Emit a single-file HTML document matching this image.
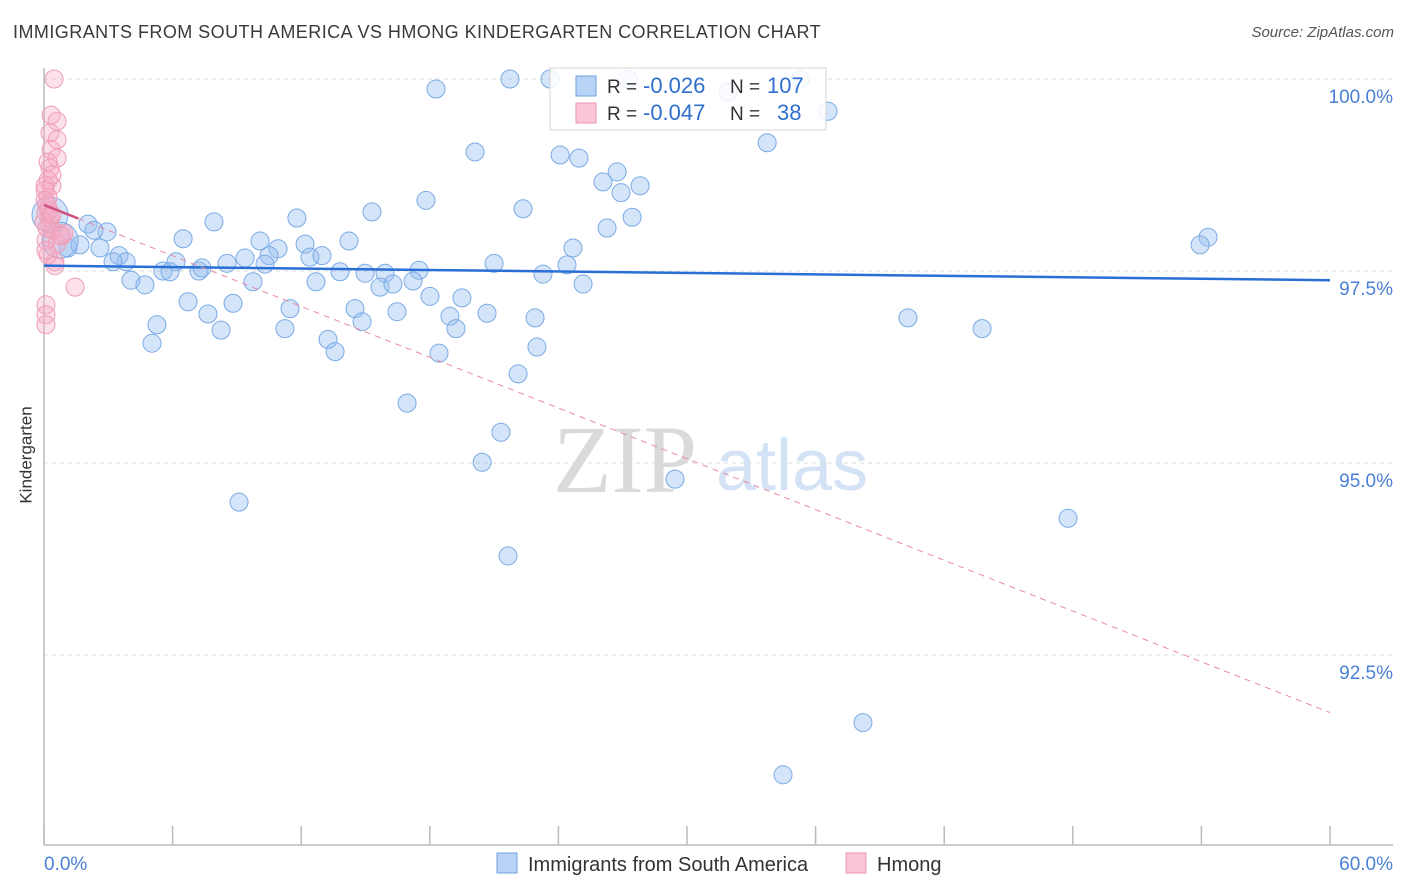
<!DOCTYPE html>
<html><head><meta charset="utf-8">
<style>
body{margin:0;background:#fff;font-family:"Liberation Sans",sans-serif;}
#wrap{position:relative;width:1406px;height:892px;overflow:hidden;}
.t{position:absolute;white-space:nowrap;}
</style></head>
<body><div id="wrap">
<div class="t" style="left:13px;top:22px;font-size:18px;letter-spacing:0.45px;color:#3a3a3a;">IMMIGRANTS FROM SOUTH AMERICA VS HMONG KINDERGARTEN CORRELATION CHART</div>
<div class="t" style="right:12px;top:24px;font-size:15px;color:#555;font-style:italic;">Source: ZipAtlas.com</div>
<div class="t" style="left:-22px;top:445px;font-size:17px;color:#333;transform:rotate(-90deg);">Kindergarten</div>
<svg id="plot" width="1406" height="892" style="position:absolute;left:0;top:0"></svg>
</div>
<script>
const blueX=[21.74,23.61,27.25,18.29,36.58,31.92,35.28,33.74,20.11,24.08,24.96,26.74,26.08,26.92,27.81,17.82,22.35,15.30,11.80,7.93,27.44,26.27,54.31,53.94,6.49,10.08,12.18,14.23,10.92,24.68,2.94,2.05,2.33,1.12,1.68,2.61,3.50,3.83,3.22,9.38,8.54,10.50,10.31,12.41,12.97,6.16,5.55,5.88,7.23,7.37,21.00,24.40,17.50,15.91,13.81,14.98,4.06,4.71,9.75,12.69,15.68,16.28,23.28,17.22,25.15,6.72,8.82,11.48,18.01,19.50,14.51,16.47,20.67,18.94,22.91,7.65,5.27,8.26,11.24,14.84,19.22,13.25,5.04,13.58,18.43,23.00,22.12,40.31,43.77,16.94,21.32,20.44,29.44,9.10,47.78,21.65,38.21,34.48,0.28,0.75];
const blueY=[100,100,100,99.87,99.58,99.83,100,99.17,99.05,99.01,98.97,98.79,98.66,98.52,98.61,98.42,98.31,98.27,98.19,98.14,98.20,98.06,97.94,97.84,97.92,97.89,97.85,97.89,97.79,97.80,98.01,98.11,98.03,97.80,97.84,97.80,97.70,97.62,97.62,97.67,97.60,97.70,97.59,97.68,97.70,97.62,97.50,97.49,97.50,97.54,97.60,97.58,97.51,97.47,97.49,97.47,97.38,97.32,97.36,97.36,97.29,97.33,97.46,97.37,97.33,97.10,97.08,97.01,97.17,97.15,97.01,96.97,96.95,96.91,96.89,96.94,96.80,96.73,96.75,96.84,96.75,96.61,96.56,96.45,96.43,96.51,96.16,96.89,96.75,95.78,95.40,95.01,94.79,94.49,94.28,93.79,91.62,90.94,98.23,97.90];
const pinkX=[0.47,0.33,0.61,0.28,0.61,0.33,0.61,0.28,0.19,0.37,0.19,0.14,0.09,0.28,0.28,0.42,0.09,0.61,0.51,0.19,1.45,0.09,0.09,0.09,0.84,0.93,0.19,0.37,0.05,0.05,0.23,0,0.14,0.37,0.09,0.51,0.75,0.05];
const pinkY=[100,99.53,99.45,99.30,99.21,99.08,98.97,98.84,98.68,98.61,98.46,98.36,98.26,98.19,98.10,98.03,97.90,97.86,97.62,97.71,97.29,97.06,96.93,96.80,97.96,97.99,98.92,98.75,98.61,98.55,98.29,98.14,98.06,98.23,97.77,97.57,97.96,98.42];
const blueTrend=[97.57,97.38];
const pinkTrend=[98.36,91.75];
const yTicks=[100,97.5,95,92.5];
const yTickLabels=["100.0%","97.5%","95.0%","92.5%"];
const xTicks=[0,6,12,18,24,30,36,42,48,54,60];

const NS="http://www.w3.org/2000/svg";
const svg=document.getElementById('plot');
const X0=44,X1=1330,XMAX=60;
const sx=v=>X0+v/XMAX*(X1-X0);
const sy=v=>79+(100-v)/2.5*192;
function mk(tag,a){const e=document.createElementNS(NS,tag);for(const k in a)e.setAttribute(k,a[k]);svg.appendChild(e);return e;}

yTicks.forEach((t,i)=>{
  const g=mk('line',{x1:44,x2:1393,y1:sy(t),y2:sy(t),stroke:'#dcdcdc','stroke-dasharray':'4,4','stroke-width':1});
  
  
  const tx=mk('text',{x:1393,y:sy(t)+24,'text-anchor':'end','font-size':19,fill:'#4a7fd4','font-family':'Liberation Sans,sans-serif'});
  tx.textContent=yTickLabels[i];
  
  
});
let ax=mk('line',{x1:44,x2:44,y1:68,y2:845,stroke:'#bbb','stroke-width':1.5});


ax=mk('line',{x1:44,x2:1393,y1:845,y2:845,stroke:'#bbb','stroke-width':1.5});


xTicks.forEach(t=>{
  const l=mk('line',{x1:sx(t),x2:sx(t),y1:826,y2:845,stroke:'#bbb','stroke-width':1.5});
  
  
});
let xl=mk('text',{x:44,y:870,'font-size':19,fill:'#4a7fd4','font-family':'Liberation Sans,sans-serif'});xl.textContent='0.0%';


xl=mk('text',{x:1393,y:870,'text-anchor':'end','font-size':19,fill:'#4a7fd4','font-family':'Liberation Sans,sans-serif'});xl.textContent='60.0%';



let wm=mk('text',{x:553,y:492,'font-size':96,fill:'#dadada','font-family':'Liberation Serif,serif'});wm.textContent='ZIP';


wm=mk('text',{x:716,y:490,'font-size':72,fill:'#d3e3f5','font-family':'Liberation Sans,sans-serif'});wm.textContent='atlas';



blueX.forEach((x,i)=>{
  const big=(i>=blueX.length-2);
  const c=mk('circle',{cx:sx(x),cy:sy(blueY[i]),r:big?18:9,fill:'rgba(150,190,240,0.4)',stroke:'#7aaae6','stroke-width':1});
  
  
});
pinkX.forEach((x,i)=>{
  const c=mk('circle',{cx:sx(x),cy:sy(pinkY[i]),r:9,fill:'rgba(245,170,195,0.35)',stroke:'#ee9db8','stroke-width':1});
  
  
});
let tl=mk('line',{x1:sx(0),x2:sx(60),y1:sy(blueTrend[0]),y2:sy(blueTrend[1]),stroke:'#2a6fd6','stroke-width':2.5});


const pv=x=>pinkTrend[0]+(pinkTrend[1]-pinkTrend[0])*x/60;
tl=mk('line',{x1:sx(1.6),x2:sx(60),y1:sy(pv(1.6)),y2:sy(pv(60)),stroke:'#e88aa8','stroke-width':1,'stroke-dasharray':'6,5'});


tl=mk('line',{x1:sx(0),x2:sx(1.6),y1:sy(pv(0)),y2:sy(pv(1.6)),stroke:'#d0507e','stroke-width':2.5});



let lg=mk('rect',{x:550,y:68,width:276,height:62,fill:'rgba(255,255,255,0.85)',stroke:'#d5d5d5'});


function sw(x,y,f,s,name){const r=mk('rect',{x:x,y:y,width:20,height:20,fill:f,stroke:s,'stroke-width':1});}
sw(576,76,'#b8d3f5','#6fa0df','legend-swatch-blue');
sw(576,103,'#fbc6d6','#eb94b2','legend-swatch-pink');
function txt(x,y,s,fill,size,name){const t=mk('text',{x:x,y:y,'font-size':size,fill:fill,'font-family':'Liberation Sans,sans-serif'});t.textContent=s;return t;}
txt(607,93,'R =','#333',19,'legend-r-label');txt(643,93,'-0.026','#2f6fd0',22,'legend-r-blue');
txt(730,93,'N =','#333',19,'legend-n-label');txt(767,93,'107','#2f6fd0',22,'legend-n-blue');
txt(607,120,'R =','#333',19,'legend-r-label');txt(643,120,'-0.047','#2f6fd0',22,'legend-r-pink');
txt(730,120,'N =','#333',19,'legend-n-label');txt(777,120,'38','#2f6fd0',22,'legend-n-pink');

sw(497,853,'#b8d3f5','#6fa0df','bottom-legend-swatch-blue');
txt(528,871,'Immigrants from South America','#333',20,'bottom-legend-south-america');
sw(846,853,'#fbc6d6','#eb94b2','bottom-legend-swatch-pink');
txt(877,871,'Hmong','#333',20,'bottom-legend-hmong');
</script>
</body></html>
